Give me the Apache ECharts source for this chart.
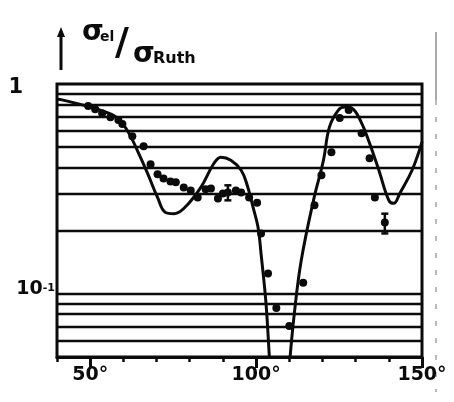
<!DOCTYPE html>
<html>
<head>
<meta charset="utf-8">
<script src="https://cdn.jsdelivr.net/npm/echarts@6/dist/echarts.min.js"></script>
<style>
  html, body { margin: 0; padding: 0; background: #fff; }
  #chart { width: 454px; height: 402px; }
</style>
</head>
<body>
<div id="chart"></div>
<script>
// Scattering angle (degrees) and cross-section ratio for the model curve
const curveDeg = [40, 41.8, 47.9, 53.0, 58.2, 61.5, 64.2, 67.3, 70.3, 72.7, 75.2, 78.2, 83.3, 87.3, 89.4, 92.4, 95.5, 97.3, 99.1, 100.6, 101.5, 103.0, 104.2, 107.0, 110.0, 111.5, 113.6, 117.3, 120.3, 122.1, 124.8, 126.7, 128.8, 131.8, 134.2, 137.0, 140.0, 141.5, 143.3, 147.0, 150];
const curveVal = [0.845, 0.838, 0.793, 0.751, 0.688, 0.589, 0.483, 0.375, 0.288, 0.244, 0.241, 0.255, 0.321, 0.419, 0.448, 0.433, 0.388, 0.330, 0.258, 0.207, 0.155, 0.0896, 0.045, 0.012, 0.045, 0.080, 0.144, 0.279, 0.433, 0.623, 0.751, 0.776, 0.768, 0.651, 0.522, 0.388, 0.279, 0.270, 0.301, 0.388, 0.530];

// Measured points
const dotDeg = [49.4, 51.5, 53.6, 56.1, 58.5, 59.7, 62.7, 66.1, 68.2, 70.3, 72.1, 74.2, 75.8, 78.2, 80.3, 82.4, 84.8, 86.4, 88.5, 90.0, 91.5, 93.9, 95.5, 97.9, 100.3, 101.5, 103.6, 106.1, 110.0, 114.2, 117.6, 119.7, 122.7, 125.2, 127.9, 131.8, 134.2, 135.8, 138.8];
const dotVal = [0.785, 0.759, 0.726, 0.695, 0.673, 0.644, 0.564, 0.505, 0.414, 0.371, 0.355, 0.343, 0.340, 0.321, 0.311, 0.288, 0.315, 0.318, 0.285, 0.301, 0.304, 0.311, 0.304, 0.288, 0.272, 0.194, 0.125, 0.0857, 0.0703, 0.113, 0.264, 0.367, 0.473, 0.688, 0.751, 0.583, 0.443, 0.288, 0.219];

// Error bars on selected points
const errDeg = [91.5, 138.8];
const errLow = [0.279, 0.194];
const errHigh = [0.329, 0.241];

// Horizontal rulings of the log scale
const gridValues = [0.9, 0.8, 0.7, 0.6, 0.5, 0.4, 0.3, 0.2, 0.1, 0.09, 0.08, 0.07, 0.06];

// Axis ranges and labelled angles
const xMin = 40, xMax = 150;
const yMin = 0.05, yMax = 1;
const majorAngles = [50, 100, 150];

const INK = '#0b0b0b';
const FONT = 'DejaVu Sans';

const curveData = curveDeg.map((d, i) => [d, curveVal[i]]);
const dotData = dotDeg.map((d, i) => [d, dotVal[i]]);
const errData = errDeg.map((d, i) => [d, errLow[i], errHigh[i]]);

const chart = echarts.init(document.getElementById('chart'), null, { renderer: 'canvas' });

const near = (a, b) => Math.abs(a - b) / b < 1e-6;

chart.setOption({
  animation: false,
  backgroundColor: '#fff',
  grid: {
    left: 57, right: 32, top: 84, bottom: 45,
    show: true, borderColor: INK, borderWidth: 3, backgroundColor: 'transparent'
  },
  xAxis: [
    {
      type: 'value', min: xMin, max: xMax, interval: 10, position: 'bottom',
      axisLine: { show: true, lineStyle: { color: INK, width: 3 } },
      axisTick: { show: true, length: 5, inside: false, lineStyle: { color: INK, width: 2.5 } },
      axisLabel: { show: false },
      splitLine: { show: false }
    },
    {
      type: 'value', min: xMin, max: xMax, position: 'bottom', offset: 0,
      axisLine: { show: false },
      axisTick: { show: true, length: 11, customValues: majorAngles, lineStyle: { color: INK, width: 3 } },
      axisLabel: {
        show: true, customValues: majorAngles, margin: 9,
        formatter: v => v + '°',
        color: INK, fontFamily: FONT, fontWeight: 'bold', fontSize: 19
      },
      splitLine: { show: false }
    }
  ],
  yAxis: {
    type: 'log', logBase: 10, min: yMin, max: yMax,
    axisLine: { show: false },
    axisTick: { show: false },
    splitLine: { show: false },
    axisLabel: {
      show: true, margin: 2, showMinLabel: false,
      formatter: v => {
        if (near(v, 1)) return '{one|1}';
        if (near(v, 0.1)) return '{ten|10}{sup|-1}';
        return '';
      },
      rich: {
        one: { fontFamily: FONT, fontWeight: 'bold', fontSize: 21, color: INK, padding: [8, 32, 0, 0] },
        ten: { fontFamily: FONT, fontWeight: 'bold', fontSize: 19, color: INK, lineHeight: 22, padding: [0, 0, 10, 0] },
        sup: { fontFamily: FONT, fontWeight: 'bold', fontSize: 11, color: INK, lineHeight: 22, verticalAlign: 'top', padding: [0, 0, 22, 0] }
      }
    }
  },
  series: [
    {
      name: 'rulings', type: 'line', data: [], xAxisIndex: 0,
      markLine: {
        silent: true, symbol: 'none', label: { show: false },
        lineStyle: { color: INK, width: 2.4, type: 'solid' },
        data: gridValues.map(v => ({ yAxis: v }))
      }
    },
    {
      name: 'model', type: 'line', data: curveData, xAxisIndex: 0,
      smooth: 0.4, showSymbol: false, clip: true,
      lineStyle: { color: INK, width: 3 }
    },
    {
      name: 'measured', type: 'scatter', data: dotData, xAxisIndex: 0,
      symbol: 'circle', symbolSize: 8, itemStyle: { color: INK, opacity: 1 }
    },
    {
      name: 'errors', type: 'custom', data: errData, xAxisIndex: 0,
      renderItem: (params, api) => {
        const lo = api.coord([api.value(0), api.value(1)]);
        const hi = api.coord([api.value(0), api.value(2)]);
        const w = 3.5;
        const st = { stroke: INK, lineWidth: 2.5 };
        return {
          type: 'group',
          children: [
            { type: 'line', shape: { x1: lo[0], y1: lo[1], x2: hi[0], y2: hi[1] }, style: st },
            { type: 'line', shape: { x1: lo[0] - w, y1: lo[1], x2: lo[0] + w, y2: lo[1] }, style: st },
            { type: 'line', shape: { x1: hi[0] - w, y1: hi[1], x2: hi[0] + w, y2: hi[1] }, style: st }
          ]
        };
      }
    }
  ],
  graphic: [
    // upward arrow beside the quantity symbol
    { type: 'line', shape: { x1: 61, y1: 70, x2: 61, y2: 34 }, style: { stroke: INK, lineWidth: 3 } },
    { type: 'polygon', shape: { points: [[57, 37], [65, 37], [61, 27]] }, style: { fill: INK } },
    // quantity: sigma_el / sigma_Ruth
    { type: 'text', style: { text: 'σ', x: 82, y: 47, font: 'bold 28px "DejaVu Sans"', fill: INK, verticalAlign: 'bottom' } },
    { type: 'text', style: { text: 'el', x: 100, y: 44, font: 'bold 14px "DejaVu Sans"', fill: INK, verticalAlign: 'bottom' } },
    { type: 'text', style: { text: '/', x: 115, y: 63, font: 'bold 38px "DejaVu Sans"', fill: INK, verticalAlign: 'bottom' } },
    { type: 'text', style: { text: 'σ', x: 133, y: 69, font: 'bold 28px "DejaVu Sans"', fill: INK, verticalAlign: 'bottom' } },
    { type: 'text', style: { text: 'Ruth', x: 153, y: 67, font: 'bold 16px "DejaVu Sans"', fill: INK, verticalAlign: 'bottom' } },
    // faint ruled edge on the right
    { type: 'line', shape: { x1: 436, y1: 32, x2: 436, y2: 100 }, style: { stroke: '#555', lineWidth: 1 } },
    { type: 'line', shape: { x1: 436, y1: 100, x2: 436, y2: 392 }, style: { stroke: '#777', lineWidth: 1, lineDash: [5, 12] } }
  ]
});
</script>
</body>
</html>
